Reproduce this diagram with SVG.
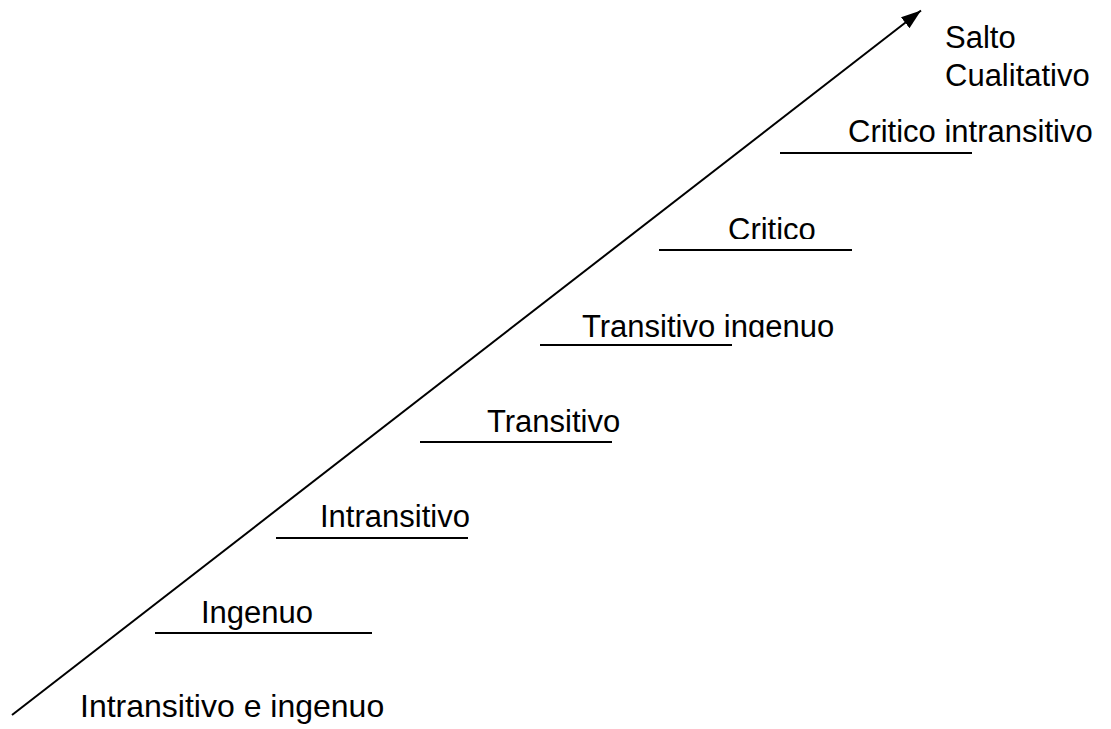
<svg xmlns="http://www.w3.org/2000/svg" width="1111" height="729" viewBox="0 0 1111 729">
<style>
text{font-family:"Liberation Sans",Arial,sans-serif;font-size:31px;fill:#000}
.u{stroke:#000;stroke-width:2;fill:none}
</style>
<defs>
<marker id="ah" markerUnits="userSpaceOnUse" markerWidth="22" markerHeight="16" refX="20" refY="7" orient="auto">
<path d="M0,0 L20,7 L0,14 z" fill="#000"/>
</marker>
<clipPath id="c1"><rect x="700" y="200" width="200" height="39"/></clipPath>
<clipPath id="c2"><rect x="470" y="390" width="200" height="42.5"/></clipPath>
<clipPath id="c3"><rect x="570" y="290" width="300" height="47.5"/></clipPath>
<clipPath id="c4"><rect x="830" y="100" width="281" height="43"/></clipPath>
</defs>
<g id="connectors">
<line class="u" x1="12" y1="715" x2="921" y2="10.5" marker-end="url(#ah)"/>
</g>
<g id="start"><text x="80" y="717" style="font-size:32px">Intransitivo e ingenuo</text></g>
<g id="ingenuo"><line class="u" x1="155" y1="633" x2="372" y2="633"/><text x="201" y="623">Ingenuo</text></g>
<g id="intransitivo"><line class="u" x1="276" y1="538" x2="468" y2="538"/><text x="320" y="527">Intransitivo</text></g>
<g id="transitivo"><line class="u" x1="420" y1="442" x2="612" y2="442"/><text x="487" y="432" clip-path="url(#c2)">Transitivo</text></g>
<g id="transitivo-ingenuo"><line class="u" x1="540" y1="345" x2="732" y2="345"/><text x="582" y="337" clip-path="url(#c3)">Transitivo ingenuo</text></g>
<g id="critico"><line class="u" x1="659" y1="250" x2="852" y2="250"/><text x="728" y="240" clip-path="url(#c1)">Critico</text></g>
<g id="critico-intransitivo"><line class="u" x1="780" y1="153" x2="972" y2="153"/><text x="848" y="142" clip-path="url(#c4)">Critico intransitivo</text></g>
<g id="salto"><text x="945" y="48">Salto</text><text x="945" y="86">Cualitativo</text></g>
</svg>
